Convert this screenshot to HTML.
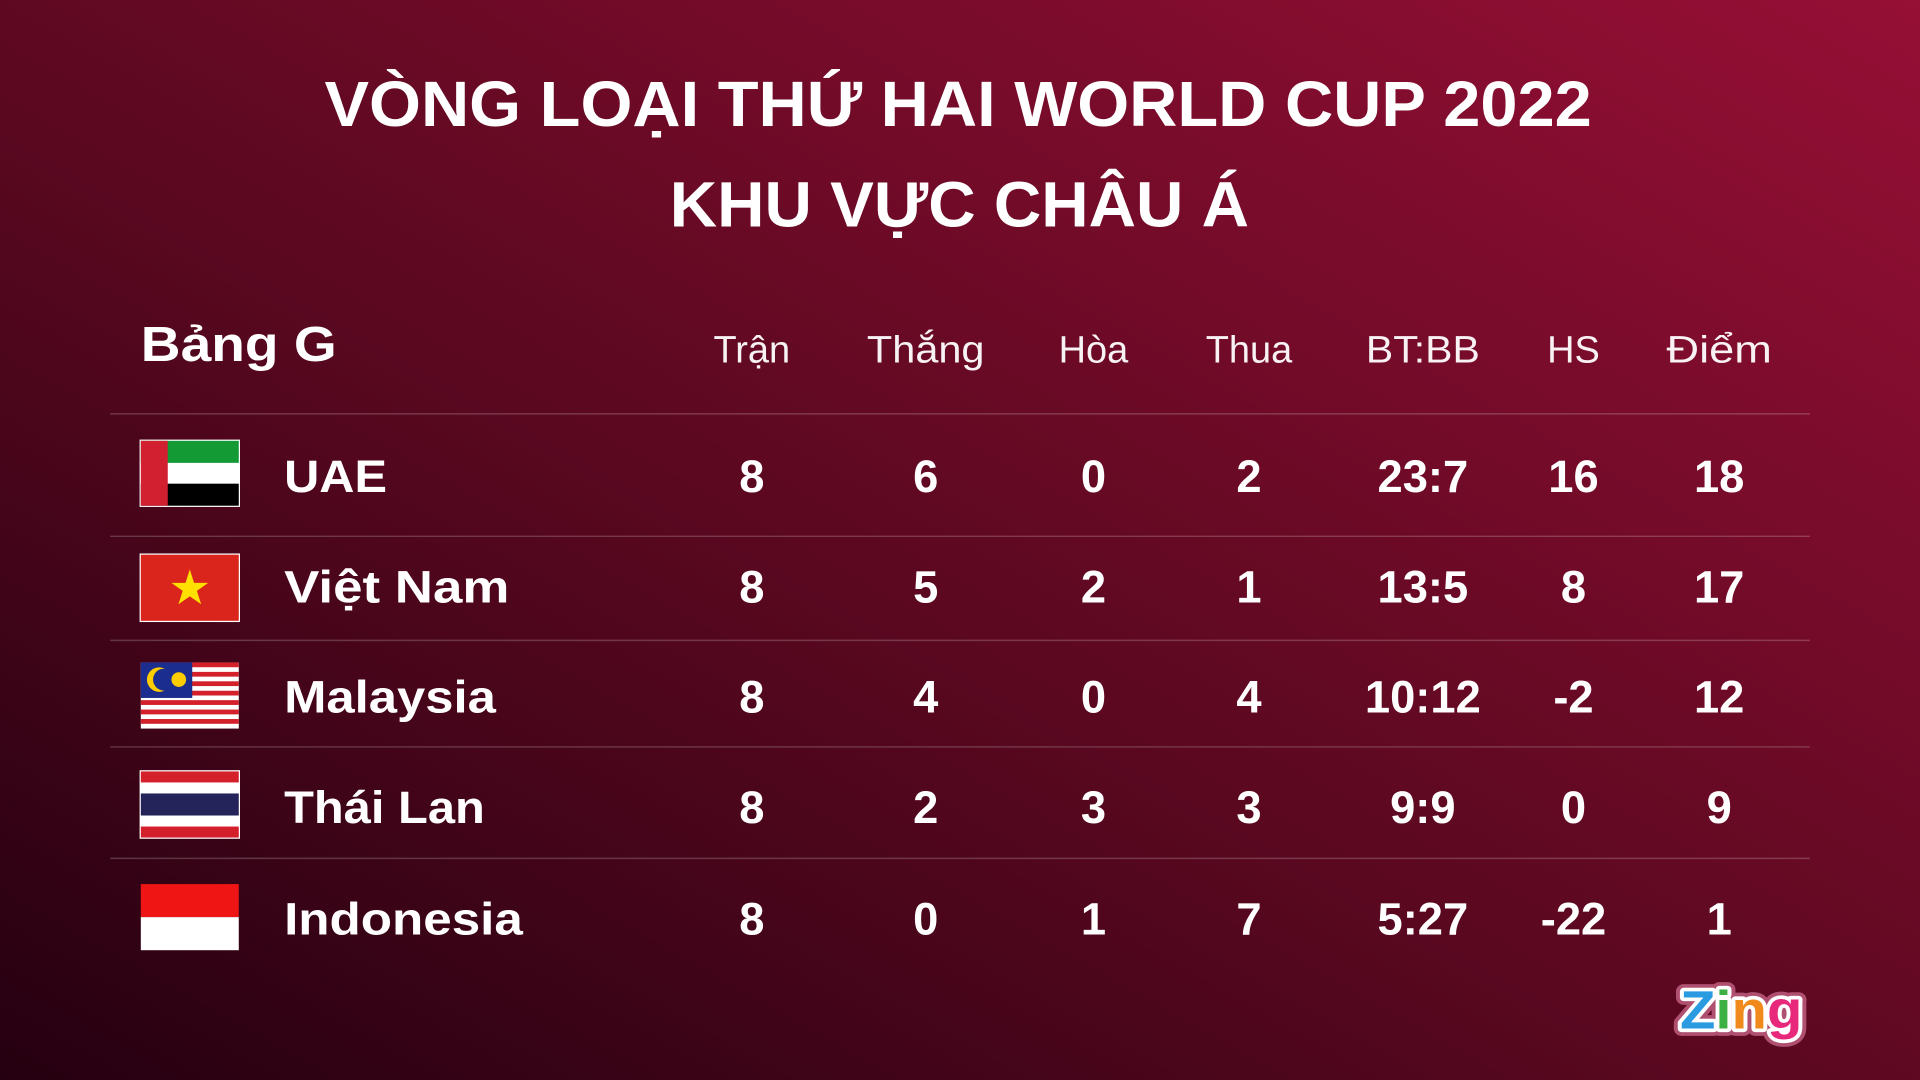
<!DOCTYPE html>
<html><head><meta charset="utf-8"><style>
html,body{margin:0;padding:0;width:1920px;height:1080px;overflow:hidden;background:#5a0a20}
svg{display:block}
text{font-family:"Liberation Sans","DejaVu Sans",sans-serif;fill:#fff}
</style></head><body>
<svg width="1920" height="1080" viewBox="0 0 1568 882" preserveAspectRatio="none">
<defs>
<linearGradient id="bg" x1="0" y1="1" x2="1" y2="0">
<stop offset="0" stop-color="#250010"/>
<stop offset="0.45" stop-color="#5a0820"/>
<stop offset="1" stop-color="#960f35"/>
</linearGradient>
</defs>
<rect width="1568" height="882" fill="url(#bg)"/>
<g font-weight="bold">
<text x="265" y="103" font-size="52" textLength="1035" lengthAdjust="spacingAndGlyphs">VÒNG LOẠI THỨ HAI WORLD CUP 2022</text>
<text x="547" y="185" font-size="52" textLength="473" lengthAdjust="spacingAndGlyphs">KHU VỰC CHÂU Á</text>
<text x="115" y="295" font-size="40" textLength="160" lengthAdjust="spacingAndGlyphs">Bảng G</text>
</g>
<g font-size="31" text-anchor="middle" fill-opacity="0.95">
<text x="614" y="296">Trận</text><text x="756" y="296" textLength="96" lengthAdjust="spacingAndGlyphs">Thắng</text><text x="893" y="296">Hòa</text>
<text x="1020" y="296">Thua</text><text x="1162" y="296" textLength="93" lengthAdjust="spacingAndGlyphs">BT:BB</text><text x="1285" y="296">HS</text><text x="1404" y="296" textLength="86" lengthAdjust="spacingAndGlyphs">Điểm</text>
</g>
<g stroke="#fff" stroke-opacity="0.2" stroke-width="1.2">
<line x1="90" x2="1478" y1="338" y2="338"/><line x1="90" x2="1478" y1="438" y2="438"/>
<line x1="90" x2="1478" y1="523" y2="523"/><line x1="90" x2="1478" y1="610" y2="610"/>
<line x1="90" x2="1478" y1="701" y2="701"/>
</g>
<g>
<rect x="114" y="359" width="82" height="55" fill="#fff"/>
<rect x="115" y="360" width="80" height="18" fill="#139a34"/>
<rect x="115" y="395" width="80" height="18" fill="#000"/>
<rect x="115" y="360" width="22" height="53" fill="#d32030"/>
<rect x="114" y="452" width="82" height="56" fill="#fff"/>
<rect x="115" y="453" width="80" height="54" fill="#da251d"/>
<polygon points="155,465 158.5,476 170,476 160.8,482.5 164.3,493.5 155,487 145.7,493.5 149.2,482.5 140,476 151.5,476" fill="#ffe000"/>
<rect x="115" y="541" width="80" height="54" fill="#fff"/>
<g fill="#d3202a">
<rect x="115" y="541" width="80" height="3.9"/><rect x="115" y="548.7" width="80" height="3.9"/><rect x="115" y="556.4" width="80" height="3.9"/>
<rect x="115" y="564.1" width="80" height="3.9"/><rect x="115" y="571.8" width="80" height="3.9"/><rect x="115" y="579.5" width="80" height="3.9"/>
<rect x="115" y="587.2" width="80" height="3.9"/>
</g>
<rect x="115" y="541" width="42" height="29" fill="#1b2d8f"/>
<circle cx="130" cy="555" r="10" fill="#ffcc00"/><circle cx="134" cy="555" r="9" fill="#1b2d8f"/>
<circle cx="146" cy="555" r="6" fill="#ffcc00"/>
<rect x="114" y="629" width="82" height="56" fill="#fff"/>
<rect x="115" y="630" width="80" height="54" fill="#fff"/>
<rect x="115" y="630" width="80" height="9" fill="#d3202a"/>
<rect x="115" y="675" width="80" height="9" fill="#d3202a"/>
<rect x="115" y="648" width="80" height="18" fill="#24245a"/>
<rect x="115" y="722" width="80" height="27" fill="#f01515"/>
<rect x="115" y="749" width="80" height="27" fill="#fff"/>
</g>
<g font-weight="bold" font-size="37">
<text x="232" y="402" textLength="84" lengthAdjust="spacingAndGlyphs">UAE</text>
<text x="232" y="492" textLength="184" lengthAdjust="spacingAndGlyphs">Việt Nam</text>
<text x="232" y="582" textLength="173" lengthAdjust="spacingAndGlyphs">Malaysia</text>
<text x="232" y="672" textLength="164" lengthAdjust="spacingAndGlyphs">Thái Lan</text>
<text x="232" y="763" textLength="195" lengthAdjust="spacingAndGlyphs">Indonesia</text>
</g>
<g font-weight="bold" font-size="37" text-anchor="middle">
<text x="614" y="402">8</text><text x="756" y="402">6</text><text x="893" y="402">0</text><text x="1020" y="402">2</text><text x="1162" y="402">23:7</text><text x="1285" y="402">16</text><text x="1404" y="402">18</text>
<text x="614" y="492">8</text><text x="756" y="492">5</text><text x="893" y="492">2</text><text x="1020" y="492">1</text><text x="1162" y="492">13:5</text><text x="1285" y="492">8</text><text x="1404" y="492">17</text>
<text x="614" y="582">8</text><text x="756" y="582">4</text><text x="893" y="582">0</text><text x="1020" y="582">4</text><text x="1162" y="582">10:12</text><text x="1285" y="582">-2</text><text x="1404" y="582">12</text>
<text x="614" y="672">8</text><text x="756" y="672">2</text><text x="893" y="672">3</text><text x="1020" y="672">3</text><text x="1162" y="672">9:9</text><text x="1285" y="672">0</text><text x="1404" y="672">9</text>
<text x="614" y="763">8</text><text x="756" y="763">0</text><text x="893" y="763">1</text><text x="1020" y="763">7</text><text x="1162" y="763">5:27</text><text x="1285" y="763">-22</text><text x="1404" y="763">1</text>
</g>
<g font-weight="bold" font-size="44" stroke-linejoin="round">
<text x="1372" y="840" stroke="#b05070" stroke-width="12" fill="#b05070" textLength="100" lengthAdjust="spacingAndGlyphs">Zing</text>
<text x="1372" y="840" stroke="#fff" stroke-width="6" fill="#fff" textLength="100" lengthAdjust="spacingAndGlyphs">Zing</text>
<text x="1372" y="840" textLength="100" lengthAdjust="spacingAndGlyphs"><tspan fill="#2a9be0">Z</tspan><tspan fill="#3cb040">i</tspan><tspan fill="#f08a1c">n</tspan><tspan fill="#e8287a">g</tspan></text>
</g>
</svg>
</body></html>
